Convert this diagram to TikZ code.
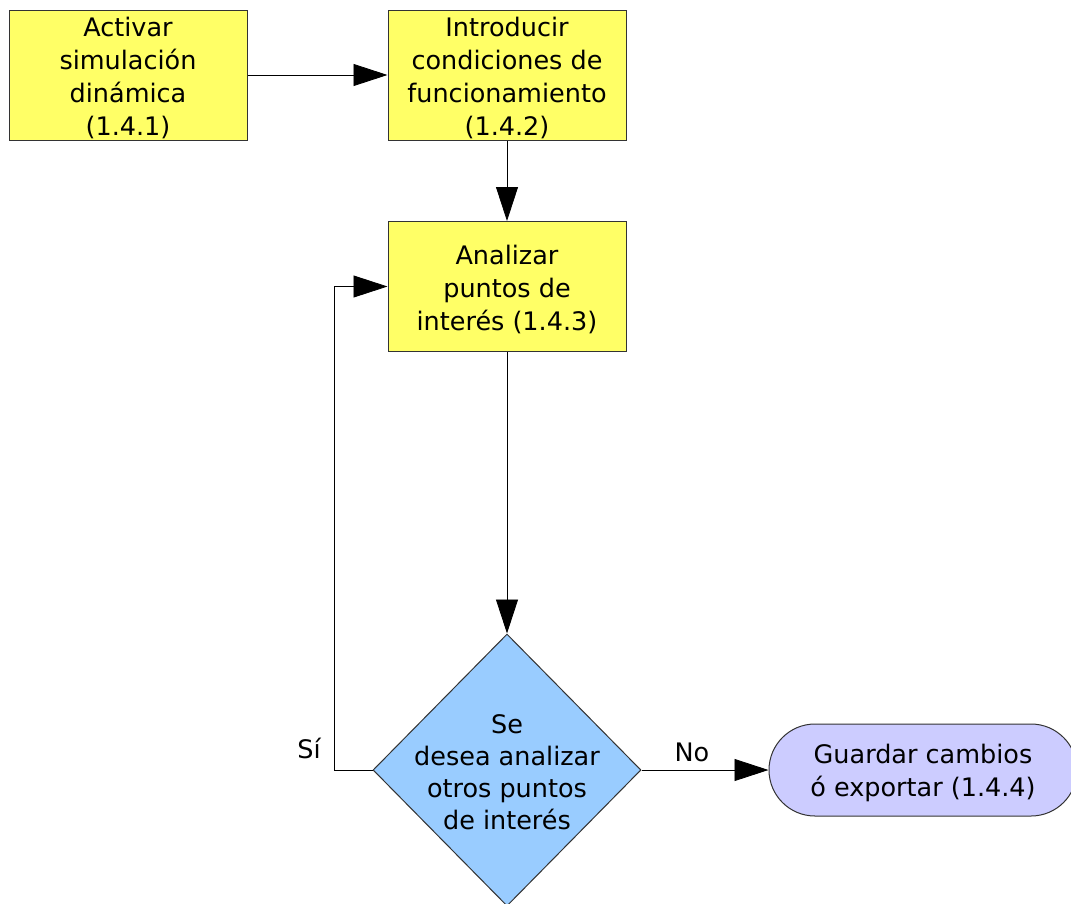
\documentclass[tikz,border=0pt]{standalone}
\usepackage{fontspec}
\setmainfont{DejaVu Sans}
\usetikzlibrary{arrows.meta,shapes.geometric}
\definecolor{boxyellow}{HTML}{FFFF66}
\definecolor{decblue}{HTML}{99CCFF}
\definecolor{termlilac}{HTML}{CCCCFF}
\definecolor{edge}{HTML}{333333}
\tikzset{
  txt/.style={font=\fontsize{25.5pt}{33pt}\selectfont, align=center, text=black},
  process/.style={draw=edge, line width=1pt, fill=boxyellow, rectangle,
    minimum width=238pt, minimum height=130pt, inner sep=0pt},
  decision/.style={draw=edge, line width=1pt, fill=decblue, diamond,
    minimum width=268pt, minimum height=272pt, inner sep=0pt},
  terminal/.style={draw=edge, line width=1pt, fill=termlilac, rectangle,
    rounded corners=46pt, minimum width=308pt, minimum height=92pt, inner sep=0pt},
  inside/.style={label={[txt, yshift=-3pt]center:{#1}}},
  arr/.style={draw=black, line width=0.8pt, -{Triangle[length=34pt,width=22pt]}}
}
\begin{document}
\begin{tikzpicture}[x=1pt,y=-1pt]
  \useasboundingbox (0,0) rectangle (1071,903);
  % process steps
  \node[process, inside={Activar\\simulación\\dinámica\\(1.4.1)}] (act) at (128,75) {};
  \node[process, inside={Introducir\\condiciones de\\funcionamiento\\(1.4.2)}] (intro) at (507,75) {};
  \node[process, inside={Analizar\\puntos de\\interés (1.4.3)}] (ana) at (507,286.5) {};
  % decision
  \node[decision, label={[txt, font=\fontsize{25.5pt}{32pt}\selectfont, yshift=-2pt]center:{Se\\desea analizar\\otros puntos\\de interés}}] (dec) at (507,770) {};
  % end
  \node[terminal, inside={Guardar cambios\\ó exportar (1.4.4)}] (fin) at (923,770) {};
  % connectors
  \draw[arr] (act.east) -- (intro.west);
  \draw[arr] (intro.south) -- (ana.north);
  \draw[arr] (ana.south) -- (dec.north);
  \draw[arr] (dec.west) -- ++(-38,0) |- (ana.west);
  \draw[arr] (dec.east) -- (fin.west);
  % branch labels
  \node[txt] (si) at (309,748) {Sí};
  \node[txt] (no) at (692,752) {No};
\end{tikzpicture}
\end{document}
